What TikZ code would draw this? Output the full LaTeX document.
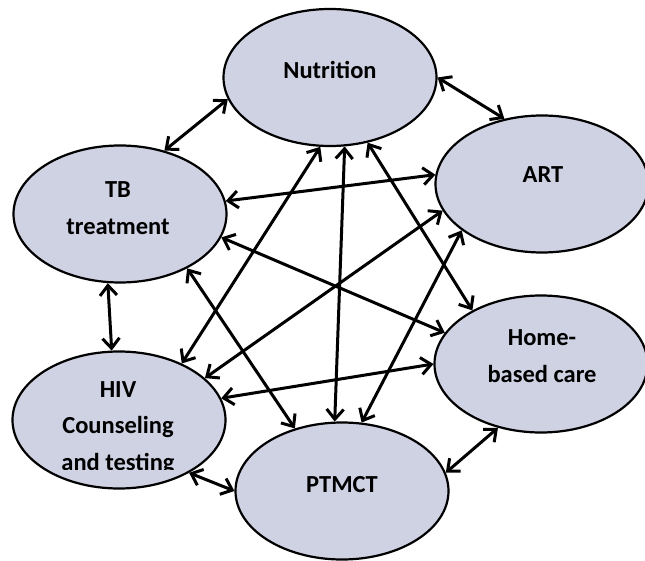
\documentclass[tikz,border=0pt]{standalone}
\usepackage{fontspec}
\setmainfont{Carlito}
\usepackage{tikz}
\usetikzlibrary{arrows.meta, shapes.geometric, positioning}
\definecolor{blobfill}{RGB}{207,210,227}

\begin{document}
\begin{tikzpicture}[x=1pt, y=-1pt]
	\tikzstyle{blob}=[ellipse, draw=black, line width=2.2pt, fill=blobfill, minimum width=213pt, minimum height=137pt, inner sep=0pt]
	\tikzstyle{txt}=[align=center, font=\fontsize{24.5}{36.5}\selectfont\bfseries, inner sep=0pt]
	\tikzstyle{link}=[{Straight Barb[length=10pt,width=17pt]}-{Straight Barb[length=10pt,width=17pt]}, line width=3pt]
	
	\useasboundingbox (0,0) rectangle (645,561);
	
	\node[blob] (nutr) at (330,77.5) {};
	\node[blob] (art)  at (542,184) {};
	\node[blob] (tb)   at (120,214) {};
	\node[blob] (home) at (541,364) {};
	\node[blob] (hiv)  at (119,420) {};
	\node[blob] (ptm)  at (342,491) {};
	
	\node[txt] (nutr-t) at (330,70) {Nutrition};
	\node[txt] (art-t)  at (543,175) {ART};
	\node[txt] (tb-t)   at (118,208) {TB\\treatment};
	\node[txt] (home-t) at (542,356) {Home-\\based care};
	\node[txt] (ptm-t)  at (342,485) {PTMCT};
	
	% last line of the HIV label is cut off
	\begin{scope}
		\clip (0,0) rectangle (645,469);
		\node[txt] (hiv-t) at (118,428) {HIV\\Counseling\\and testing};
	\end{scope}
	
	\path[link]
	(nutr.0)   edge (art.120)
	(tb.55)    edge (nutr.192)
	(tb.7)     edge (art.175)
	(tb.-13)   edge (home.162)
	(tb.-100)  edge (hiv.96)
	(tb.-39)   edge (ptm.127)
	
	(hiv.42)   edge (nutr.-98)
	(hiv.26)   edge (art.195)
	(hiv.12)   edge (home.180)
	(hiv.-37)  edge (ptm.180)
	
	(ptm.96)   edge (nutr.-78)
	(ptm.74)   edge (art.210)
	(home.142) edge (nutr.-60)
	(ptm.10)   edge (home.236)
	;
\end{tikzpicture}
\end{document}
